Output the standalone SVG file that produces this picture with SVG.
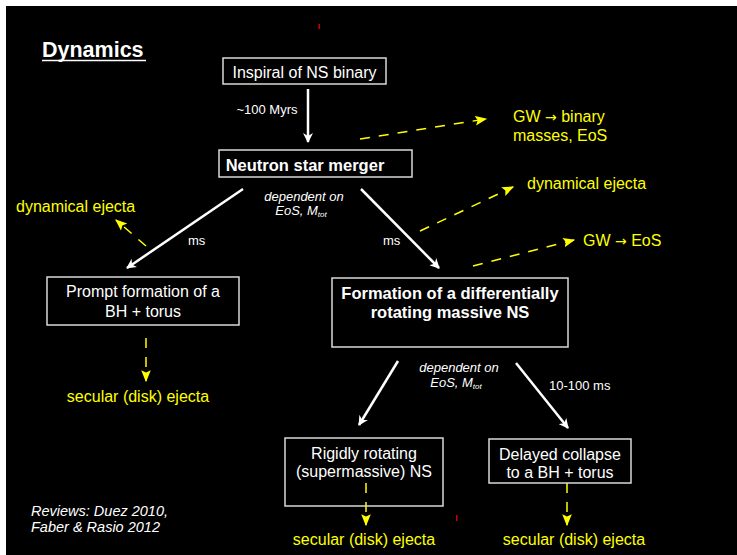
<svg xmlns="http://www.w3.org/2000/svg" width="737" height="555" viewBox="0 0 737 555">
<style>
text{font-family:"Liberation Sans",Arial,sans-serif}
.w{fill:#ffffff}
.y{fill:#ffff00}
.box{fill:none;stroke:#d9d9d9;stroke-width:1.5}
.t15{font-size:16px}
.b{font-weight:bold;font-size:16.5px}
.it{font-style:italic}
.sm{font-size:13px}
.arrg{font-family:"DejaVu Sans",sans-serif;font-size:14px}
.arr{stroke:#ffffff;stroke-width:2.5;fill:none;marker-end:url(#wh)}
.dash{stroke:#ffff00;stroke-width:1.5;fill:none;stroke-dasharray:10 9;marker-end:url(#yh)}
</style>
<defs>
<marker id="wh" viewBox="0 0 10 10" refX="9" refY="5" markerWidth="4" markerHeight="4" orient="auto" markerUnits="strokeWidth">
<path d="M0,0 L10,5 L0,10 L3,5 Z" fill="#ffffff"/>
</marker>
<marker id="yh" viewBox="0 0 10 10" refX="9" refY="5" markerWidth="8" markerHeight="8" orient="auto" markerUnits="strokeWidth">
<path d="M0,1 L10,5 L0,9 L2,5 Z" fill="#ffff00"/>
</marker>
</defs>
<rect x="0" y="0" width="737" height="555" fill="#ffffff"/>
<rect x="6" y="6" width="731" height="549" fill="#000000"/>
<g id="title">
<text x="42" y="57" class="w" font-weight="bold" font-size="21.5">Dynamics</text>
<line x1="42" y1="60.5" x2="146" y2="60.5" stroke="#ffffff" stroke-width="1.5"/>
</g>
<rect x="318.5" y="24" width="1.5" height="5" fill="#cc0000"/>
<rect x="456" y="515" width="1.5" height="6" fill="#cc0000"/>
<g id="connectors">
<line x1="308" y1="89" x2="308" y2="142" class="arr"/>
<line x1="243" y1="189" x2="127" y2="268" class="arr"/>
<line x1="361" y1="189" x2="439" y2="268" class="arr"/>
<line x1="398" y1="361" x2="359" y2="425" class="arr"/>
<line x1="516" y1="363" x2="568" y2="428" class="arr"/>
<line x1="360" y1="139" x2="486" y2="119" class="dash"/>
<line x1="146" y1="246" x2="116" y2="220" class="dash"/>
<line x1="420" y1="231" x2="513" y2="187" class="dash"/>
<line x1="473" y1="266" x2="574" y2="240" class="dash"/>
<line x1="146" y1="338" x2="146" y2="381" class="dash"/>
<line x1="366" y1="483" x2="366" y2="525" class="dash" stroke-dasharray="12 15"/>
<line x1="567" y1="483" x2="567" y2="525" class="dash" stroke-dasharray="12 15"/>
</g>
<g id="labels">
<text x="267" y="114" class="w sm" text-anchor="middle">~100 Myrs</text>
<text x="304" y="201" class="w it sm" text-anchor="middle">dependent on</text>
<text x="301" y="215" class="w it sm" text-anchor="middle">EoS, M<tspan font-size="8" dy="2">tot</tspan></text>
<text x="188" y="245" class="w sm">ms</text>
<text x="383" y="245" class="w sm">ms</text>
<text x="459" y="372" class="w it sm" text-anchor="middle">dependent on</text>
<text x="456" y="387" class="w it sm" text-anchor="middle">EoS, M<tspan font-size="8" dy="2">tot</tspan></text>
<text x="549" y="390" class="w sm">10-100 ms</text>
<text x="513" y="122" class="y t15">GW <tspan class="arrg">→</tspan> binary</text>
<text x="513" y="141" class="y t15">masses, EoS</text>
<text x="16" y="212" class="y t15">dynamical ejecta</text>
<text x="527" y="189" class="y t15">dynamical ejecta</text>
<text x="583" y="246" class="y t15">GW <tspan class="arrg">→</tspan> EoS</text>
<text x="138" y="402" class="y t15" text-anchor="middle">secular (disk) ejecta</text>
<text x="364" y="545" class="y t15" text-anchor="middle">secular (disk) ejecta</text>
<text x="574" y="545" class="y t15" text-anchor="middle">secular (disk) ejecta</text>
<text x="31" y="516" class="w it" font-size="14.5">Reviews: Duez 2010,</text>
<text x="31" y="532" class="w it" font-size="14.5">Faber &amp; Rasio 2012</text>
</g>
<g id="inspiral">
<rect x="223" y="58" width="163" height="26" class="box"/>
<text x="304.5" y="78" class="w t15" text-anchor="middle">Inspiral of NS binary</text>
</g>
<g id="merger">
<rect x="219" y="150" width="193" height="27" class="box"/>
<text x="305" y="171" class="w b" text-anchor="middle">Neutron star merger</text>
</g>
<g id="prompt">
<rect x="47" y="277" width="192" height="48" class="box"/>
<text x="143" y="297" class="w t15" text-anchor="middle">Prompt formation of a</text>
<text x="143" y="317" class="w t15" text-anchor="middle">BH + torus</text>
</g>
<g id="diffrot">
<rect x="332" y="278" width="236" height="69" class="box"/>
<text x="450" y="299" class="w b" text-anchor="middle">Formation of a differentially</text>
<text x="450" y="318" class="w b" text-anchor="middle">rotating massive NS</text>
</g>
<g id="rigid">
<rect x="285" y="438" width="158" height="68" class="box"/>
<text x="364" y="459" class="w t15" text-anchor="middle">Rigidly rotating</text>
<text x="364" y="477" class="w t15" text-anchor="middle">(supermassive) NS</text>
</g>
<g id="delayed">
<rect x="489" y="439" width="142" height="44" class="box"/>
<text x="560" y="460" class="w t15" text-anchor="middle">Delayed collapse</text>
<text x="560" y="478" class="w t15" text-anchor="middle">to a BH + torus</text>
</g>
</svg>
